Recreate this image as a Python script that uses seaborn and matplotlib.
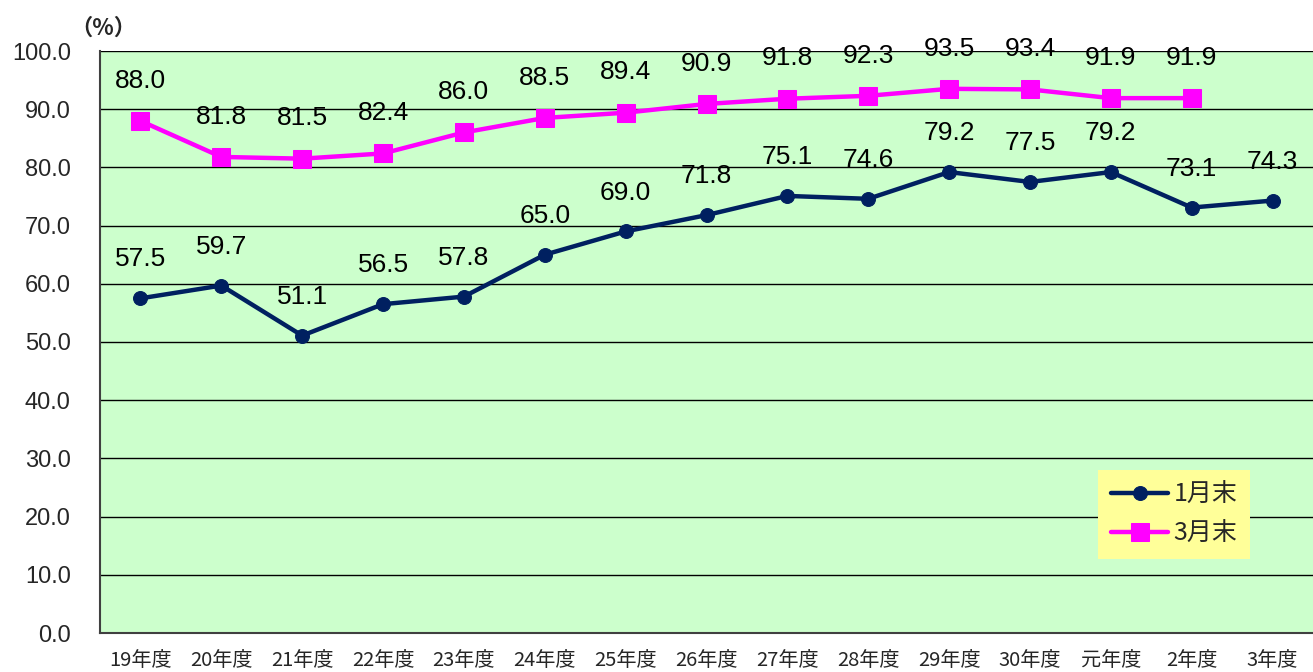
import numpy as np
import pandas as pd
import matplotlib
matplotlib.use("Agg")
import matplotlib.pyplot as plt
import seaborn as sns

categories = ["19年度", "20年度", "21年度", "22年度", "23年度", "24年度", "25年度",
              "26年度", "27年度", "28年度", "29年度", "30年度", "元年度", "2年度", "3年度"]
jan_end = [57.5, 59.7, 51.1, 56.5, 57.8, 65.0, 69.0, 71.8, 75.1, 74.6, 79.2, 77.5, 79.2, 73.1, 74.3]
mar_end = [88.0, 81.8, 81.5, 82.4, 86.0, 88.5, 89.4, 90.9, 91.8, 92.3, 93.5, 93.4, 91.9, 91.9, np.nan]
series_names = ["1月末", "3月末"]
y_ticks = [0, 10, 20, 30, 40, 50, 60, 70, 80, 90, 100]

sns.set_style("white")
plt.rcParams['font.family'] = ['Noto Sans CJK JP', 'DejaVu Sans']

W, H = 1313, 672
fig = plt.figure(figsize=(W / 100, H / 100), dpi=100)
ax = fig.add_axes([100 / W, (H - 633) / H, (W - 100) / W, (633 - 51) / H])
ax.set_facecolor("#CCFFCC")

pos = np.arange(len(categories))
df = pd.DataFrame({
    "x": np.concatenate([pos, pos]),
    "value": jan_end + mar_end,
    "series": [series_names[0]] * len(pos) + [series_names[1]] * len(pos),
})
colors = {"1月末": "#002060", "3月末": "#FF00FF"}
markers = {"1月末": "o", "3月末": "s"}

for ytick in y_ticks[1:]:
    ax.axhline(ytick, color="black", lw=1, zorder=1)

for name in series_names:
    sub = df[df["series"] == name].dropna()
    sns.lineplot(data=sub, x="x", y="value", ax=ax, color=colors[name],
                 marker=markers[name], markersize=10 if name == "1月末" else 13,
                 markeredgecolor=colors[name], lw=3.2, label=name, zorder=3)

label_font = ['Liberation Sans', 'DejaVu Sans']
for xi, v in zip(pos, jan_end):
    ax.annotate(f"{v:.1f}", (xi, v), xytext=(0, 28), textcoords="offset points",
                ha="center", va="center", fontsize=19, family=label_font, color="black")
for xi, v in zip(pos, mar_end):
    if not np.isnan(v):
        ax.annotate(f"{v:.1f}", (xi, v), xytext=(0, 29), textcoords="offset points",
                    ha="center", va="center", fontsize=19, family=label_font, color="black")

ax.set_xlim(-0.5, len(categories) - 0.5)
ax.set_ylim(0, 100)
ax.set_yticks(y_ticks)
ax.set_yticklabels([f"{t:.1f}" for t in y_ticks], family=label_font, fontsize=17)
ax.set_xticks(pos)
ax.set_xticklabels(categories, fontsize=14.5)
ax.set_xticks(np.arange(0.5, len(categories) - 0.5, 1), minor=True)
ax.tick_params(axis="x", which="major", length=0, pad=12)
ax.tick_params(axis="x", which="minor", length=6, direction="in", color="black", width=1)
ax.tick_params(axis="y", which="major", length=5, direction="in", color="black")
ax.yaxis.set_tick_params(pad=21)
ax.set_xlabel("")
ax.set_ylabel("")

for side in ["top", "right"]:
    ax.spines[side].set_visible(False)
for side in ["left", "bottom"]:
    ax.spines[side].set_color("#404040")
    ax.spines[side].set_linewidth(1.5)

fig.text(103 / W, 1 - 28 / H, "（%）", ha="center", va="center", fontsize=16,
         fontweight="bold")

leg = ax.legend(loc="lower left", bbox_to_anchor=(0.823, 0.127), frameon=True,
                fancybox=False, facecolor="#FFFF99", edgecolor="none", framealpha=1,
                fontsize=18, handlelength=2.3, handletextpad=0.2, borderpad=0.5,
                labelspacing=0.5, borderaxespad=0)

fig.savefig("out.png", dpi=100)
